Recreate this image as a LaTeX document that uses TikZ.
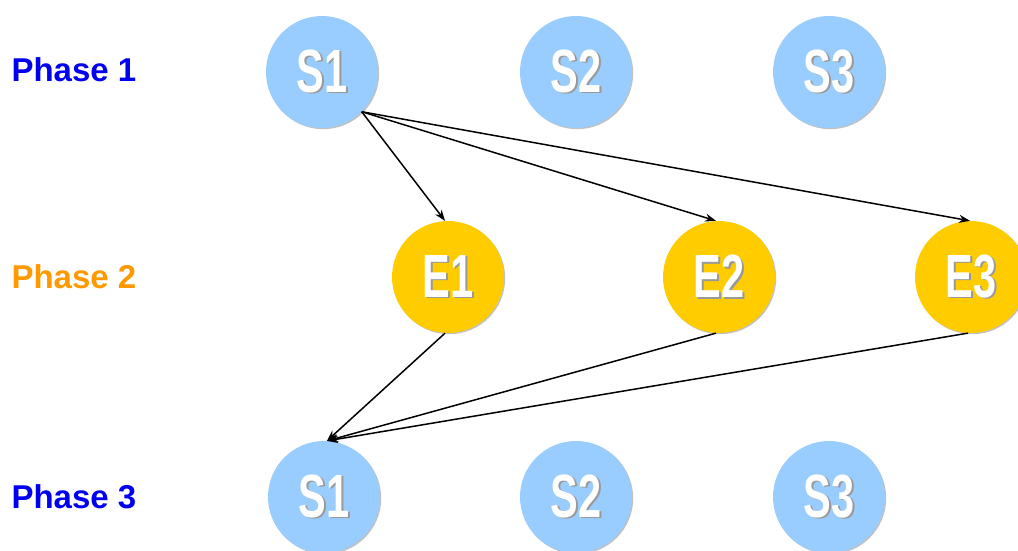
\documentclass[tikz,border=0pt]{standalone}
\usepackage{fontspec}
\setmainfont{Liberation Sans}
\usetikzlibrary{arrows.meta,shadows}
\definecolor{sblue}{RGB}{153,204,255}
\definecolor{egold}{RGB}{255,204,0}
\definecolor{phblue}{RGB}{0,0,240}
\definecolor{phorange}{RGB}{255,153,0}
% white condensed lettering with a soft grey drop shadow
\newcommand{\balltext}[1]{\scalebox{0.68}[1]{\bfseries\fontsize{61}{61}\selectfont #1}}
\newcommand{\ballabel}[1]{%
  \rlap{\kern1.8pt\raisebox{-1.8pt}{\textcolor{black!40}{\balltext{#1}}}}%
  \textcolor{white}{\balltext{#1}}}
\begin{document}
\begin{tikzpicture}[x=1pt,y=-1pt,
  ball/.style={circle,minimum size=112pt,inner sep=0pt,
    drop shadow={shadow xshift=1.2pt,shadow yshift=-1.2pt,opacity=0.35,fill=black!70}},
  sball/.style={ball,fill=sblue},
  eball/.style={ball,fill=egold},
  phase/.style={font=\bfseries\fontsize{33}{33}\selectfont,anchor=west},
  link/.style={draw=black,line width=1.5pt,-{Stealth[length=11pt,width=8pt]}}]
\useasboundingbox (0,0) rectangle (1018,551);
% phase labels
\node[phase,text=phblue] (p1) at (8,70) {Phase 1};
\node[phase,text=phorange] (p2) at (8,277) {Phase 2};
\node[phase,text=phblue] (p3) at (8,497) {Phase 3};
% phase 1 states
\node[sball] (a1) at (322,72) {\ballabel{S1}};
\node[sball] (a2) at (576,72) {\ballabel{S2}};
\node[sball] (a3) at (829,72) {\ballabel{S3}};
% phase 2 events
\node[eball] (e1) at (448,277) {\ballabel{E1}};
\node[eball] (e2) at (719,277) {\ballabel{E2}};
\node[eball] (e3) at (971,277) {\ballabel{E3}};
% phase 3 states
\node[sball] (b1) at (324,497) {\ballabel{S1}};
\node[sball] (b2) at (576,497) {\ballabel{S2}};
\node[sball] (b3) at (829,497) {\ballabel{S3}};
% transitions
\draw[link] (a1.-45) -- (e1.93);
\draw[link] (a1.-45) -- (e2.93);
\draw[link] (a1.-45) -- (e3.91);
\draw[link] (e1.-93) -- (b1.87);
\draw[link] (e2.-93) -- (b1.87);
\draw[link] (e3.-93) -- (b1.87);
\end{tikzpicture}
\end{document}
